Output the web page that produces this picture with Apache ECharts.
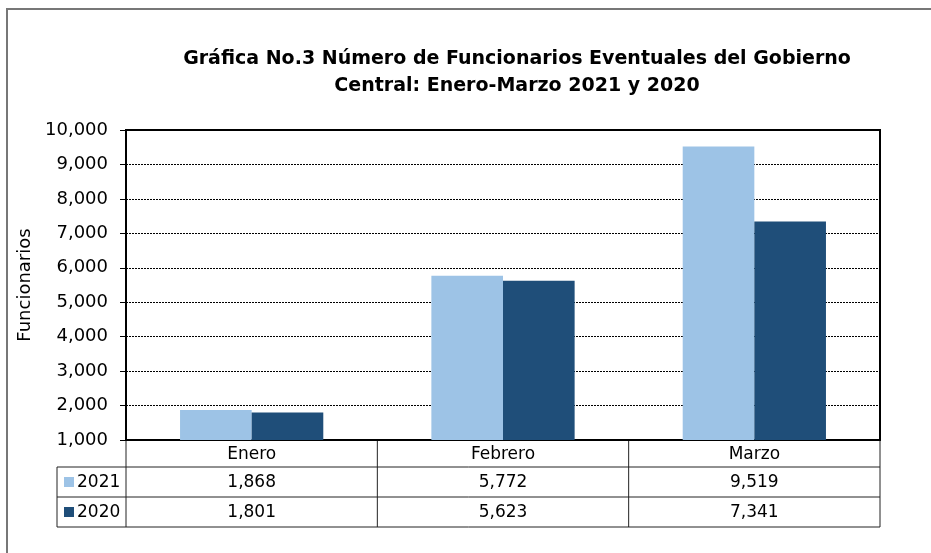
<!DOCTYPE html>
<html>
<head>
<meta charset="utf-8">
<script src="https://cdn.jsdelivr.net/npm/echarts@6/dist/echarts.min.js"></script>
<style>
    html, body { margin: 0; padding: 0; background: #fff; }
    #chart { width: 931px; height: 553px; }
</style>
</head>
<body>
<div id="chart"></div>
<script>
// datos de la gráfica
const months = ["Enero", "Febrero", "Marzo"];
const years = ["2021", "2020"];
const values2021 = [1868, 5772, 9519];
const values2020 = [1801, 5623, 7341];
const yMin = 1000;
const yMax = 10000;
const yStep = 1000;

const colors = ["#9DC3E6", "#1F4E79"];
const font = "DejaVu Sans";

const chart = echarts.init(document.getElementById("chart"));

const fmt = v => v.toLocaleString("en-US");

chart.setOption({
    animation: false,
    textStyle: { fontFamily: font },
    title: {
        text: "Gráfica No.3 Número de Funcionarios Eventuales del Gobierno\nCentral: Enero-Marzo 2021 y 2020",
        left: 512,
        textAlign: "center",
        top: 41,
        textStyle: {
            fontFamily: font,
            fontSize: 19,
            fontWeight: "bold",
            color: "#000",
            lineHeight: 27,
        },
    },
    grid: {
        left: 126,
        right: 51,
        top: 130,
        bottom: 113,
        show: true,
        borderColor: "#000",
        borderWidth: 2,
    },
    xAxis: {
        type: "category",
        data: months,
        axisLabel: { show: false },
        axisTick: { show: false },
        axisLine: { lineStyle: { color: "#000", width: 2 } },
    },
    yAxis: {
        type: "value",
        min: yMin,
        max: yMax,
        interval: yStep,
        name: "Funcionarios",
        nameLocation: "middle",
        nameGap: 82,
        nameTextStyle: { fontFamily: font, fontSize: 18, color: "#000" },
        axisLine: { show: true, lineStyle: { color: "#000", width: 2 } },
        axisTick: { show: true, length: 6, lineStyle: { color: "#000" } },
        axisLabel: {
            fontFamily: font,
            fontSize: 18,
            color: "#000",
            margin: 18,
            formatter: v => fmt(v),
        },
        splitLine: { lineStyle: { color: "#000", type: [2, 1], width: 1 } },
    },
    series: [
        {
            name: years[0],
            type: "bar",
            data: values2021,
            barGap: "0%",
            barCategoryGap: "43%",
            itemStyle: { color: colors[0] },
        },
        {
            name: years[1],
            type: "bar",
            data: values2020,
            itemStyle: { color: colors[1] },
        },
    ],
});

// tabla de datos debajo del eje
function drawTable() {
    const centers = months.map((m, i) => chart.convertToPixel({ xAxisIndex: 0 }, i));
    const band = centers[1] - centers[0];
    const left = centers[0] - band / 2;
    const right = centers[centers.length - 1] + band / 2;
    const yTop = chart.convertToPixel({ yAxisIndex: 0 }, yMin);
    const rowY = [yTop, yTop + 27, yTop + 57, yTop + 87];
    const legendLeft = 57;
    const lineStyle = { stroke: "#222", lineWidth: 1 };
    const els = [];

    // borde exterior
    els.push({
        type: "rect",
        shape: { x: 7, y: 9, width: 1000, height: 1000 },
        style: { fill: null, stroke: "#777", lineWidth: 2 },
        silent: true,
    });

    // líneas horizontales
    els.push({ type: "line", shape: { x1: legendLeft, y1: rowY[1], x2: right, y2: rowY[1] }, style: lineStyle });
    els.push({ type: "line", shape: { x1: legendLeft, y1: rowY[2], x2: right, y2: rowY[2] }, style: lineStyle });
    els.push({ type: "line", shape: { x1: legendLeft, y1: rowY[3], x2: right, y2: rowY[3] }, style: lineStyle });
    // líneas verticales
    els.push({ type: "line", shape: { x1: legendLeft, y1: rowY[1], x2: legendLeft, y2: rowY[3] }, style: lineStyle });
    for (let i = 0; i <= months.length; i++) {
        const x = left + i * band;
        els.push({ type: "line", shape: { x1: x, y1: rowY[0], x2: x, y2: rowY[3] }, style: lineStyle });
    }

    const cell = (text, x, y, align) => ({
        type: "text",
        x: x,
        y: y,
        style: {
            text: text,
            fontFamily: font,
            fontSize: 17,
            fill: "#000",
            align: align || "center",
            verticalAlign: "middle",
        },
    });

    months.forEach((m, i) => {
        els.push(cell(m, centers[i], (rowY[0] + rowY[1]) / 2 + 1));
        els.push(cell(fmt(values2021[i]), centers[i], (rowY[1] + rowY[2]) / 2 + 1));
        els.push(cell(fmt(values2020[i]), centers[i], (rowY[2] + rowY[3]) / 2 + 1));
    });

    years.forEach((yr, k) => {
        const cy = (rowY[k + 1] + rowY[k + 2]) / 2;
        els.push({
            type: "rect",
            shape: { x: 64, y: cy - 5, width: 10, height: 10 },
            style: { fill: colors[k] },
        });
        els.push(cell(yr, 77, cy + 1, "left"));
    });

    chart.setOption({ graphic: els });
}

drawTable();
</script>
</body>
</html>
